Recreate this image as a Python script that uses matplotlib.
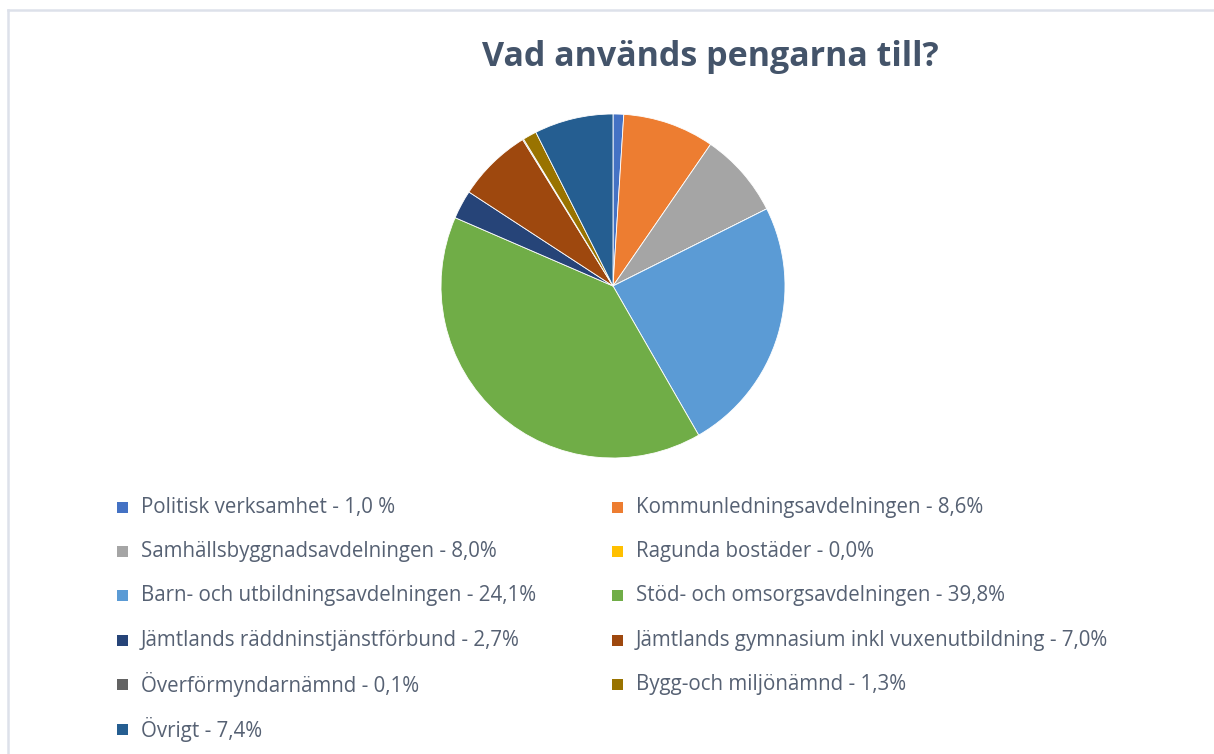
import matplotlib
matplotlib.use("Agg")
import matplotlib.pyplot as plt
from matplotlib.patches import Rectangle
from matplotlib.lines import Line2D

# data, clockwise from 12 o'clock
labels = [
    "Politisk verksamhet - 1,0 %",
    "Kommunledningsavdelningen - 8,6%",
    "Samhällsbyggnadsavdelningen - 8,0%",
    "Ragunda bostäder - 0,0%",
    "Barn- och utbildningsavdelningen - 24,1%",
    "Stöd- och omsorgsavdelningen - 39,8%",
    "Jämtlands räddninstjänstförbund - 2,7%",
    "Jämtlands gymnasium inkl vuxenutbildning - 7,0%",
    "Överförmyndarnämnd - 0,1%",
    "Bygg-och miljönämnd - 1,3%",
    "Övrigt - 7,4%",
]
shares = [1.0, 8.6, 8.0, 0.0, 24.1, 39.8, 2.7, 7.0, 0.1, 1.3, 7.4]
colors = ["#4472C4", "#ED7D31", "#A5A5A5", "#FFC000", "#5B9BD5", "#70AD47",
          "#264478", "#9E480E", "#636363", "#997300", "#255E91"]

W, H = 1214, 754
fig = plt.figure(figsize=(W / 100, H / 100), dpi=100)

# chart frame (top and left edges only visible)
fig.lines.append(Line2D([8 / W, 1], [1 - 10 / H, 1 - 10 / H], transform=fig.transFigure,
                        color="#DDE1EA", linewidth=1.8))
fig.lines.append(Line2D([8 / W, 8 / W], [0, 1 - 10 / H], transform=fig.transFigure,
                        color="#DDE1EA", linewidth=1.8))

fig.text(710 / W, 1 - 57 / H, "Vad används pengarna till?", ha="center", va="center",
         fontsize=24.5, fontweight="bold", color="#44546A", family="Open Sans")

# pie
cx, cy, r = 613, 286, 172
ax = fig.add_axes([(cx - r) / W, 1 - (cy + r) / H, 2 * r / W, 2 * r / H])
ax.pie(shares, colors=colors, startangle=90, counterclock=False,
       wedgeprops=dict(edgecolor="white", linewidth=0.6))
ax.set_xlim(-1, 1)
ax.set_ylim(-1, 1)
ax.set_aspect("equal")
ax.axis("off")

# legend, two columns, row-major
col_x = [117, 612]
row_y0, row_dy = 507, 44.4
for i, (lab, c) in enumerate(zip(labels, colors)):
    x = col_x[i % 2]
    y = row_y0 + (i // 2) * row_dy
    fig.patches.append(Rectangle((x / W, 1 - (y + 5.5) / H), 11 / W, 11 / H,
                                 transform=fig.transFigure, facecolor=c, edgecolor="none"))
    fig.text((x + 24) / W, 1 - y / H, lab, ha="left", va="center",
             fontsize=14.8, color="#566173", family="Open Sans")

fig.savefig("out.png", dpi=100, facecolor="white")
